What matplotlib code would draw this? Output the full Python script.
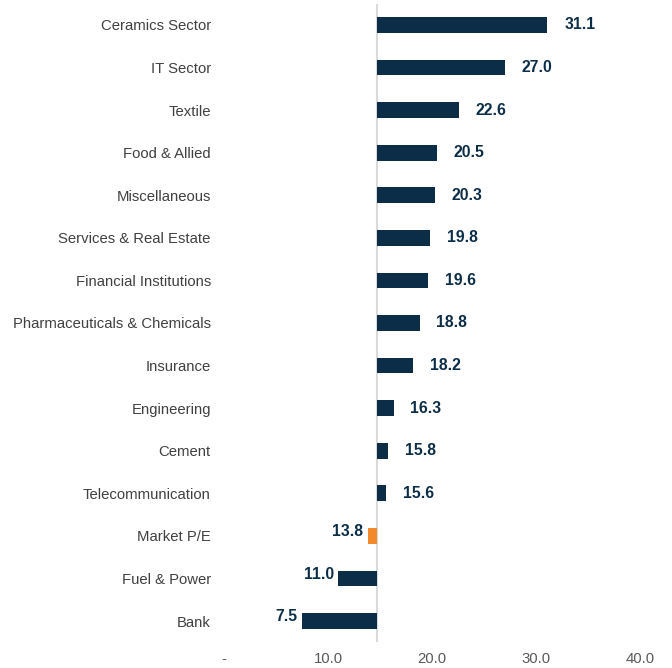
import matplotlib
matplotlib.use("Agg")
import matplotlib.pyplot as plt

plt.rcParams['font.family'] = ['Liberation Sans', 'DejaVu Sans']

categories = ["Ceramics Sector", "IT Sector", "Textile", "Food & Allied", "Miscellaneous",
              "Services & Real Estate", "Financial Institutions", "Pharmaceuticals & Chemicals",
              "Insurance", "Engineering", "Cement", "Telecommunication", "Market P/E",
              "Fuel & Power", "Bank"]
pe_values = [31.1, 27.0, 22.6, 20.5, 20.3, 19.8, 19.6, 18.8, 18.2, 16.3, 15.8, 15.6, 13.8, 11.0, 7.5]
highlight = "Market P/E"
axis_cross = 14.7
x_ticks = [0, 10, 20, 30, 40]
x_tick_labels = ["-", "10.0", "20.0", "30.0", "40.0"]

navy = "#0b2d48"
orange = "#f28a2b"

fig = plt.figure(figsize=(6.72, 6.68), dpi=100)
ax = fig.add_axes([224/672, 1 - 642.3/668, 416/672, 638.6/668])

ys = list(range(len(categories)))
colors = [orange if c == highlight else navy for c in categories]
ax.barh(ys, [v - axis_cross for v in pe_values], left=axis_cross, height=0.37,
        color=colors, zorder=2)

for y, v in zip(ys, pe_values):
    if v >= axis_cross:
        ax.annotate(f"{v:.1f}", (v, y), xytext=(12, 0), textcoords="offset points",
                    ha="left", va="center", fontsize=11.3, fontweight="bold", color=navy)
    else:
        ax.annotate(f"{v:.1f}", (v, y), xytext=(-3, 3), textcoords="offset points",
                    ha="right", va="center", fontsize=11.3, fontweight="bold", color=navy)

ax.axvline(axis_cross, color="#d9d9d9", linewidth=1.5, zorder=1)

ax.set_xlim(0, 40)
ax.set_ylim(len(categories) - 0.5, -0.5)
ax.set_yticks(ys)
ax.set_yticklabels(categories, fontsize=10.7, color="#404040")
ax.set_xticks(x_ticks)
ax.set_xticklabels(x_tick_labels, fontsize=10.7, color="#595959")
ax.tick_params(axis="both", length=0)
ax.tick_params(axis="y", pad=9.5)
ax.tick_params(axis="x", pad=7)
for s in ax.spines.values():
    s.set_visible(False)

fig.savefig("out.png", dpi=100)
